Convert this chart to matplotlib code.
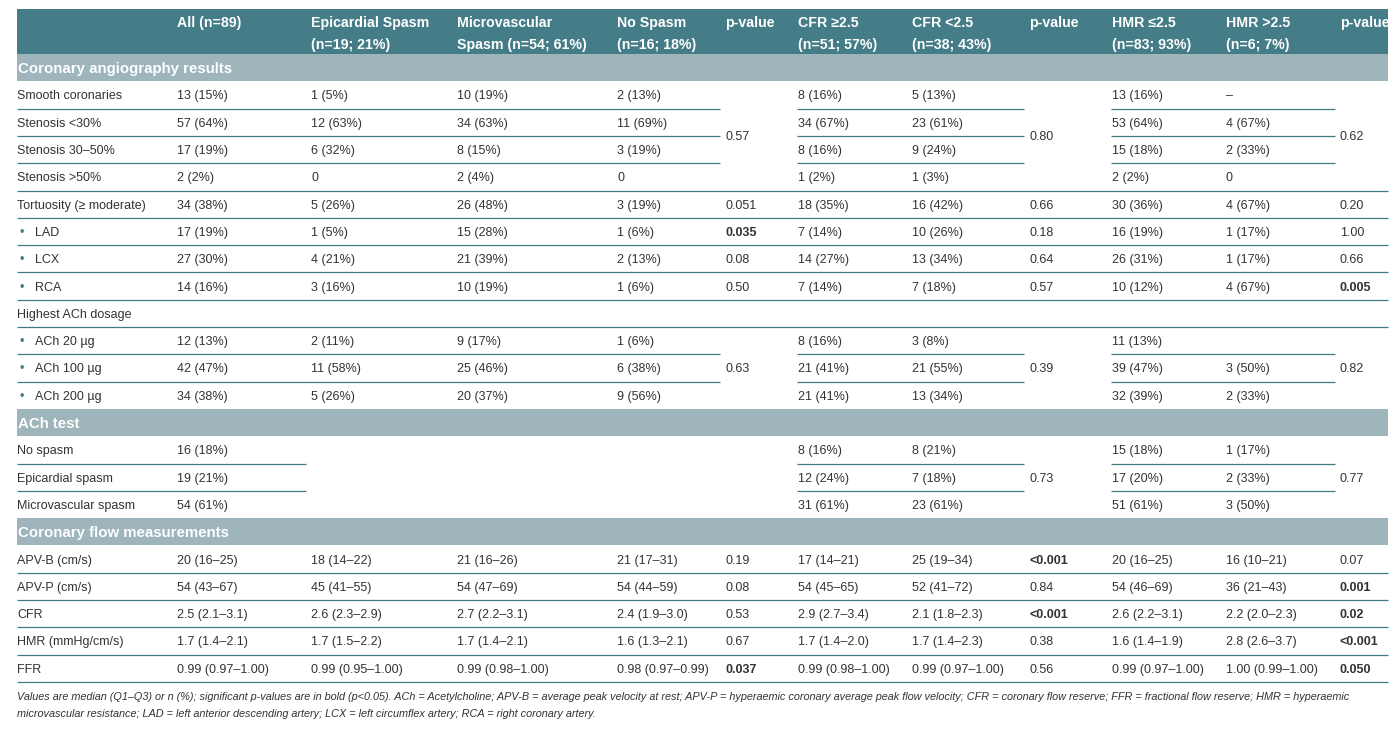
import matplotlib
matplotlib.use('Agg')
import matplotlib.pyplot as plt
from matplotlib.patches import Rectangle

# ---- table content ----
header_top = ['', 'All (n=89)', 'Epicardial Spasm', 'Microvascular', 'No Spasm', 'p-value',
              'CFR ≥2.5', 'CFR <2.5', 'p-value', 'HMR ≤2.5', 'HMR >2.5', 'p-value']
header_bottom = ['', '', '(n=19; 21%)', 'Spasm (n=54; 61%)', '(n=16; 18%)', '',
                 '(n=51; 57%)', '(n=38; 43%)', '', '(n=83; 93%)', '(n=6; 7%)', '']

section_titles = ['Coronary angiography results', 'ACh test', 'Coronary flow measurements']

# None = merged with the cell above, '*' = bold (significant)
angio_labels = ['Smooth coronaries', 'Stenosis <30%', 'Stenosis 30–50%', 'Stenosis >50%',
                'Tortuosity (≥ moderate)', '• LAD', '• LCX', '• RCA', 'Highest ACh dosage',
                '• ACh 20 µg', '• ACh 100 µg', '• ACh 200 µg']
angio_all = ['13 (15%)', '57 (64%)', '17 (19%)', '2 (2%)', '34 (38%)', '17 (19%)', '27 (30%)',
             '14 (16%)', '', '12 (13%)', '42 (47%)', '34 (38%)']
angio_epi = ['1 (5%)', '12 (63%)', '6 (32%)', '0', '5 (26%)', '1 (5%)', '4 (21%)', '3 (16%)',
             '', '2 (11%)', '11 (58%)', '5 (26%)']
angio_micro = ['10 (19%)', '34 (63%)', '8 (15%)', '2 (4%)', '26 (48%)', '15 (28%)', '21 (39%)',
               '10 (19%)', '', '9 (17%)', '25 (46%)', '20 (37%)']
angio_nospasm = ['2 (13%)', '11 (69%)', '3 (19%)', '0', '3 (19%)', '1 (6%)', '2 (13%)', '1 (6%)',
                 '', '1 (6%)', '6 (38%)', '9 (56%)']
angio_p1 = ['0.57', None, None, None, '0.051', '*0.035', '0.08', '0.50', '', '0.63', None, None]
angio_cfr_hi = ['8 (16%)', '34 (67%)', '8 (16%)', '1 (2%)', '18 (35%)', '7 (14%)', '14 (27%)',
                '7 (14%)', '', '8 (16%)', '21 (41%)', '21 (41%)']
angio_cfr_lo = ['5 (13%)', '23 (61%)', '9 (24%)', '1 (3%)', '16 (42%)', '10 (26%)', '13 (34%)',
                '7 (18%)', '', '3 (8%)', '21 (55%)', '13 (34%)']
angio_p2 = ['0.80', None, None, None, '0.66', '0.18', '0.64', '0.57', '', '0.39', None, None]
angio_hmr_lo = ['13 (16%)', '53 (64%)', '15 (18%)', '2 (2%)', '30 (36%)', '16 (19%)', '26 (31%)',
                '10 (12%)', '', '11 (13%)', '39 (47%)', '32 (39%)']
angio_hmr_hi = ['–', '4 (67%)', '2 (33%)', '0', '4 (67%)', '1 (17%)', '1 (17%)', '4 (67%)',
                '', '', '3 (50%)', '2 (33%)']
angio_p3 = ['0.62', None, None, None, '0.20', '1.00', '0.66', '*0.005', '', '0.82', None, None]

ach_labels = ['No spasm', 'Epicardial spasm', 'Microvascular spasm']
ach_all = ['16 (18%)', '19 (21%)', '54 (61%)']
ach_blank = ['', None, None]
ach_cfr_hi = ['8 (16%)', '12 (24%)', '31 (61%)']
ach_cfr_lo = ['8 (21%)', '7 (18%)', '23 (61%)']
ach_p2 = ['0.73', None, None]
ach_hmr_lo = ['15 (18%)', '17 (20%)', '51 (61%)']
ach_hmr_hi = ['1 (17%)', '2 (33%)', '3 (50%)']
ach_p3 = ['0.77', None, None]

flow_labels = ['APV-B (cm/s)', 'APV-P (cm/s)', 'CFR', 'HMR (mmHg/cm/s)', 'FFR']
flow_all = ['20 (16–25)', '54 (43–67)', '2.5 (2.1–3.1)', '1.7 (1.4–2.1)', '0.99 (0.97–1.00)']
flow_epi = ['18 (14–22)', '45 (41–55)', '2.6 (2.3–2.9)', '1.7 (1.5–2.2)', '0.99 (0.95–1.00)']
flow_micro = ['21 (16–26)', '54 (47–69)', '2.7 (2.2–3.1)', '1.7 (1.4–2.1)', '0.99 (0.98–1.00)']
flow_nospasm = ['21 (17–31)', '54 (44–59)', '2.4 (1.9–3.0)', '1.6 (1.3–2.1)', '0.98 (0.97–0.99)']
flow_p1 = ['0.19', '0.08', '0.53', '0.67', '*0.037']
flow_cfr_hi = ['17 (14–21)', '54 (45–65)', '2.9 (2.7–3.4)', '1.7 (1.4–2.0)', '0.99 (0.98–1.00)']
flow_cfr_lo = ['25 (19–34)', '52 (41–72)', '2.1 (1.8–2.3)', '1.7 (1.4–2.3)', '0.99 (0.97–1.00)']
flow_p2 = ['*<0.001', '0.84', '*<0.001', '0.38', '0.56']
flow_hmr_lo = ['20 (16–25)', '54 (46–69)', '2.6 (2.2–3.1)', '1.6 (1.4–1.9)', '0.99 (0.97–1.00)']
flow_hmr_hi = ['16 (10–21)', '36 (21–43)', '2.2 (2.0–2.3)', '2.8 (2.6–3.7)', '1.00 (0.99–1.00)']
flow_p3 = ['0.07', '*0.001', '*0.02', '*<0.001', '*0.050']

footnote = ['Values are median (Q1–Q3) or n (%); significant p-values are in bold (p<0.05). '
            'ACh = Acetylcholine; APV-B = average peak velocity at rest; APV-P = hyperaemic coronary '
            'average peak flow velocity; CFR = coronary flow reserve; FFR = fractional flow reserve; '
            'HMR = hyperaemic',
            'microvascular resistance; LAD = left anterior descending artery; LCX = left circumflex '
            'artery; RCA = right coronary artery.']

sections = [
    [angio_labels, angio_all, angio_epi, angio_micro, angio_nospasm, angio_p1,
     angio_cfr_hi, angio_cfr_lo, angio_p2, angio_hmr_lo, angio_hmr_hi, angio_p3],
    [ach_labels, ach_all, ach_blank, ach_blank, ach_blank, ach_blank,
     ach_cfr_hi, ach_cfr_lo, ach_p2, ach_hmr_lo, ach_hmr_hi, ach_p3],
    [flow_labels, flow_all, flow_epi, flow_micro, flow_nospasm, flow_p1,
     flow_cfr_hi, flow_cfr_lo, flow_p2, flow_hmr_lo, flow_hmr_hi, flow_p3],
]

# ---- layout / style ----
plt.rcParams['font.family'] = ['Liberation Sans', 'DejaVu Sans']
DARK = '#447c87'
BAND = '#9db5bb'
RULE = '#3f7a84'
TXT = '#333333'
col_x = [17, 177, 311, 457, 617, 725, 798, 912, 1029, 1112, 1226, 1340]
left, right = 17, 1388
head_top, head_h = 9, 45
row_h = 27.3
body_fs = 9
text_dy = 1.5  # nudge text a bit lower within each row

fig = plt.figure(figsize=(13.98, 7.36), dpi=100)
ax = fig.add_axes([0, 0, 1, 1])
ax.set_xlim(0, 1398)
ax.set_ylim(736, 0)
ax.axis('off')

# header
ax.add_patch(Rectangle((left, head_top), right - left, head_h, color=DARK, lw=0))
for x, t1, t2 in zip(col_x, header_top, header_bottom):
    ax.text(x, head_top + 14, t1, ha='left', va='center', color='white',
            fontsize=10.2, fontweight='bold')
    if t2:
        ax.text(x, head_top + 36, t2, ha='left', va='center', color='white',
                fontsize=10.2, fontweight='bold')


def seg_end(c):
    return col_x[c + 1] - 5 if c + 1 < len(col_x) else right


def draw_cell(x, y, s):
    if not s:
        return
    bold = s.startswith('*')
    ax.text(x, y, s.lstrip('*'), ha='left', va='center', color=TXT,
            fontsize=body_fs, fontweight='bold' if bold else 'normal')


y = head_top + head_h
for si, (title, cols) in enumerate(zip(section_titles, sections)):
    ax.add_patch(Rectangle((left, y), right - left, row_h, color=BAND, lw=0))
    ax.text(left + 1, y + row_h / 2 + 1, title, ha='left', va='center', color='white',
            fontsize=10.8, fontweight='bold')
    y += row_h
    n = len(cols[0])
    # cells
    for c, values in enumerate(cols):
        for r, s in enumerate(values):
            if s is None:
                continue
            span = 1
            while r + span < n and values[r + span] is None:
                span += 1
            yc = y + (r + span / 2) * row_h + text_dy
            if c == 0 and s.startswith('• '):
                ax.text(20, yc, '•', ha='left', va='center', color=RULE, fontsize=body_fs)
                draw_cell(35, yc, s[2:])
            else:
                draw_cell(col_x[c], yc, s)
    # rules under rows
    last_section = si == len(sections) - 1
    for r in range(n):
        yl = y + (r + 1) * row_h
        if r == n - 1 and not last_section:
            continue
        c = 0
        while c < len(cols):
            if r + 1 < n and cols[c][r + 1] is None:
                c += 1
                continue
            start = c
            while c + 1 < len(cols) and not (r + 1 < n and cols[c + 1][r + 1] is None):
                c += 1
            x0 = col_x[start] - 1 if start > 0 else left
            ax.plot([x0, seg_end(c)], [yl, yl], color=RULE, lw=0.9, solid_capstyle='butt')
            c += 1
    y += n * row_h

for i, line in enumerate(footnote):
    ax.text(left, y + 15 + i * 17, line, ha='left', va='center', color=TXT,
            fontsize=7.8, style='italic')

fig.savefig('out.png', dpi=100, facecolor='white')
